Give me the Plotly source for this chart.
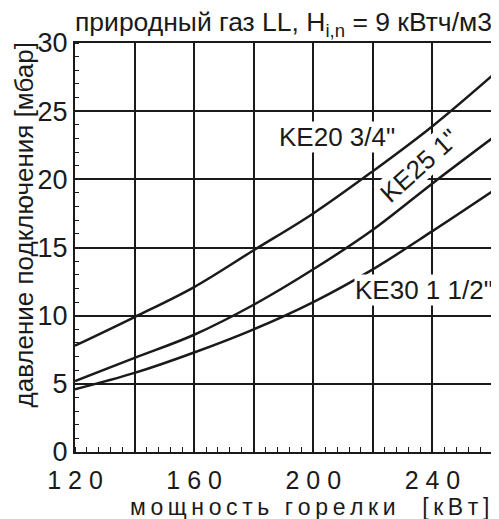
import plotly.graph_objects as go

# burner output [kW] and connection pressure [mbar]
power_kw = [120, 140, 160, 180, 200, 220, 240, 260]
ke20_mbar = [7.8, 9.9, 12.1, 14.8, 17.5, 20.6, 23.9, 27.6]
ke25_mbar = [5.2, 6.9, 8.6, 10.8, 13.4, 16.3, 19.7, 23.0]
ke30_mbar = [4.6, 5.8, 7.3, 9.0, 11.0, 13.4, 16.2, 19.1]

x_tick_vals = [120, 140, 160, 180, 200, 220, 240, 260]
x_tick_text = ["120", "", "160", "", "200", "", "240", ""]
y_tick_vals = [0, 5, 10, 15, 20, 25, 30]

FONT = "Liberation Sans, Arial, sans-serif"
INK = "#1a1a1a"


def spaced(s, sep="\u2009"):
    # the original uses letter-spaced text on the x axis
    return sep.join(s)


fig = go.Figure()
for y in [ke20_mbar, ke25_mbar, ke30_mbar]:
    fig.add_trace(go.Scatter(
        x=power_kw, y=y, mode="lines",
        line=dict(color=INK, width=2.5, shape="spline"),
        showlegend=False, hoverinfo="skip"
    ))

labels = [
    ("KE20 3/4\"", 208, 23.1, 0),
    ("KE25 1\"", 235.5, 21.0, -42),
    ("KE30 1 1/2\"", 237.2, 11.9, 0),
]
for text, x, y, ang in labels:
    fig.add_annotation(
        x=x, y=y, text=text, showarrow=False, textangle=ang,
        font=dict(size=26, color=INK, family=FONT),
        bgcolor="white", borderpad=0
    )

# axis titles as annotations so they sit where the original has them
fig.add_annotation(
    text=spaced("мощность горелки  [кВт]"), showarrow=False,
    xref="paper", yref="paper", x=0.5635, y=0, yshift=-55,
    xanchor="center", yanchor="middle",
    font=dict(size=23, family=FONT, color=INK)
)
fig.add_annotation(
    text="давление подключения [мбар]", showarrow=False, textangle=-90,
    xref="paper", yref="paper", x=0, y=0.5, xshift=-52, yshift=22,
    xanchor="center", yanchor="middle",
    font=dict(size=26, family=FONT, color=INK)
)

fig.update_xaxes(
    range=[120, 260],
    tickvals=x_tick_vals,
    ticktext=[spaced(t, " ") for t in x_tick_text],
    ticks="", automargin=False, ticklabelstandoff=5,
    showgrid=True, gridcolor=INK, gridwidth=1.5,
    showline=True, linecolor=INK, linewidth=2, mirror=True,
    minor=dict(dtick=4, ticks="inside", ticklen=5, tickcolor=INK, tickwidth=1, showgrid=False),
    tickfont=dict(size=25, family=FONT, color=INK),
    zeroline=False,
)
fig.update_yaxes(
    range=[0, 30],
    tickvals=y_tick_vals,
    ticks="", automargin=False,
    showgrid=True, gridcolor=INK, gridwidth=1.5,
    showline=True, linecolor=INK, linewidth=2, mirror=True,
    minor=dict(dtick=1, ticks="inside", ticklen=4, tickcolor=INK, tickwidth=1, showgrid=False),
    tickfont=dict(size=27, family=FONT, color=INK),
    zeroline=False,
)
# the page adds an 8px body margin, so the figure is a little smaller
fig.update_layout(
    width=491, height=511,
    margin=dict(l=67, r=7, t=35, b=67),
    paper_bgcolor="white", plot_bgcolor="white",
    title=dict(text="природный газ LL, H<sub>i,n</sub> = 9 кВтч/м3",
               xref="paper", x=0.5, xanchor="center",
               y=1 - 14 / 511, yanchor="middle",
               font=dict(size=26.5, family=FONT, color=INK)),
)

fig.write_html("out.html")
